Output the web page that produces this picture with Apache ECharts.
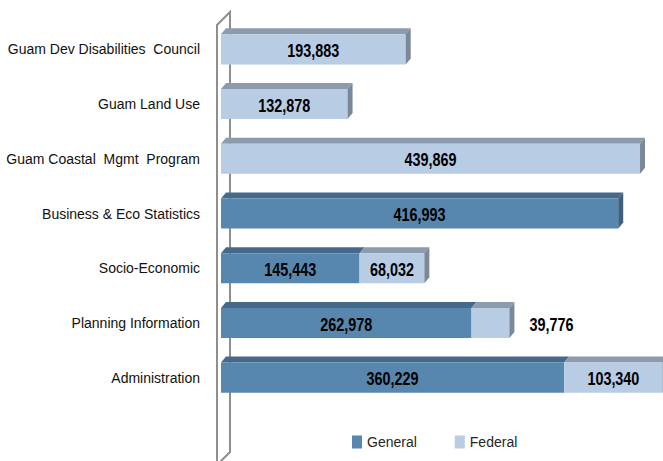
<!DOCTYPE html>
<html><head><meta charset="utf-8">
<script src="https://cdn.jsdelivr.net/npm/echarts@6/dist/echarts.min.js"></script>
<style>html,body{margin:0;padding:0;background:#fff}#c{width:663px;height:461px}</style>
</head><body><div id="c"></div>
<script>
var categories = ['Administration','Planning Information','Socio-Economic','Business & Eco Statistics','Guam Coastal  Mgmt  Program','Guam Land Use','Guam Dev Disabilities  Council'];
var generalValues = [360229, 262978, 145443, 416993, 0, 0, 0];
var federalValues = [103340, 39776, 68032, 0, 439869, 132878, 193883];

var FONT = '"Liberation Sans", Arial, sans-serif';
var DX = 5, DY = 6;

function fmt(v){ return v.toLocaleString('en-US'); }

function makeRender(front, top, side){
  return function(params, api){
    var v = api.value(0), c = api.value(1), b = api.value(2), last = api.value(3);
    if (!v) return;
    var p0 = api.coord([b, c]), p1 = api.coord([b + v, c]);
    var h = api.size([0, 1])[1] * 0.55;
    var y0 = p0[1] - h / 2;
    var x0 = p0[0], x1 = p1[0];
    var children = [
      {type:'polygon', shape:{points:[[x0,y0],[x0+DX,y0-DY],[x1+DX,y0-DY],[x1,y0]]}, style:{fill:top}},
      {type:'rect', shape:{x:x0, y:y0, width:x1-x0, height:h}, style:{fill:front}}
    ];
    if (last) {
      children.push({type:'polygon', shape:{points:[[x1,y0],[x1+DX,y0-DY],[x1+DX,y0+h-DY],[x1,y0+h]]}, style:{fill:side}});
    }
    var inside = (x1 - x0) > 50;
    children.push({type:'text', z2:10,
      x: inside ? (x0 + x1) / 2 : x1 + 42, y: p0[1] + 1, scaleX: 0.8,
      style:{ text: fmt(v), x:0, y:0, align:'center', verticalAlign:'middle',
        font: 'bold 18px ' + FONT, fill:'#000' }});
    return {type:'group', children:children};
  };
}

var genData = generalValues.map(function(v,i){ return [v, i, 0, federalValues[i] ? 0 : 1]; });
var fedData = federalValues.map(function(v,i){ return [v, i, generalValues[i], 1]; });

var chart = echarts.init(document.getElementById('c'), null, {renderer:'svg'});
chart.setOption({
  animation:false,
  grid:{left:221, right:0, top:22, bottom:56, containLabel:false, outerBoundsMode:'none'},
  xAxis:{type:'value', min:0, max:464000, show:false},
  yAxis:{type:'category', data:categories,
    axisLine:{show:false}, axisTick:{show:false}, splitLine:{show:false},
    axisLabel:{margin:21, fontFamily:FONT, fontSize:14, color:'#111'}},
  legend:{left:347, top:430, itemWidth:10, itemHeight:13, itemGap:38,
    textStyle:{fontFamily:FONT, fontSize:14, color:'#262626'},
    data:[{name:'General', icon:'rect'},{name:'Federal', icon:'rect'}]},
  graphic:[
    {type:'polygon', z:-10, shape:{points:[[217,470],[217,25],[230,12],[230,452],[221,461],[221,470]]},
      style:{fill:'#ffffff', stroke:'#8f8f8f', lineWidth:2}}
  ],
  series:[
    {name:'General', type:'custom', itemStyle:{color:'#5787AE'}, renderItem:makeRender('#5787AE','#44698B','#3f5f7c'),
      encode:{x:0, y:1}, data:genData},
    {name:'Federal', type:'custom', itemStyle:{color:'#B8CCE4'}, renderItem:makeRender('#B8CCE4','#8D9BAE','#7B8899'),
      encode:{x:0, y:1}, data:fedData}
  ]
});
</script></body></html>
